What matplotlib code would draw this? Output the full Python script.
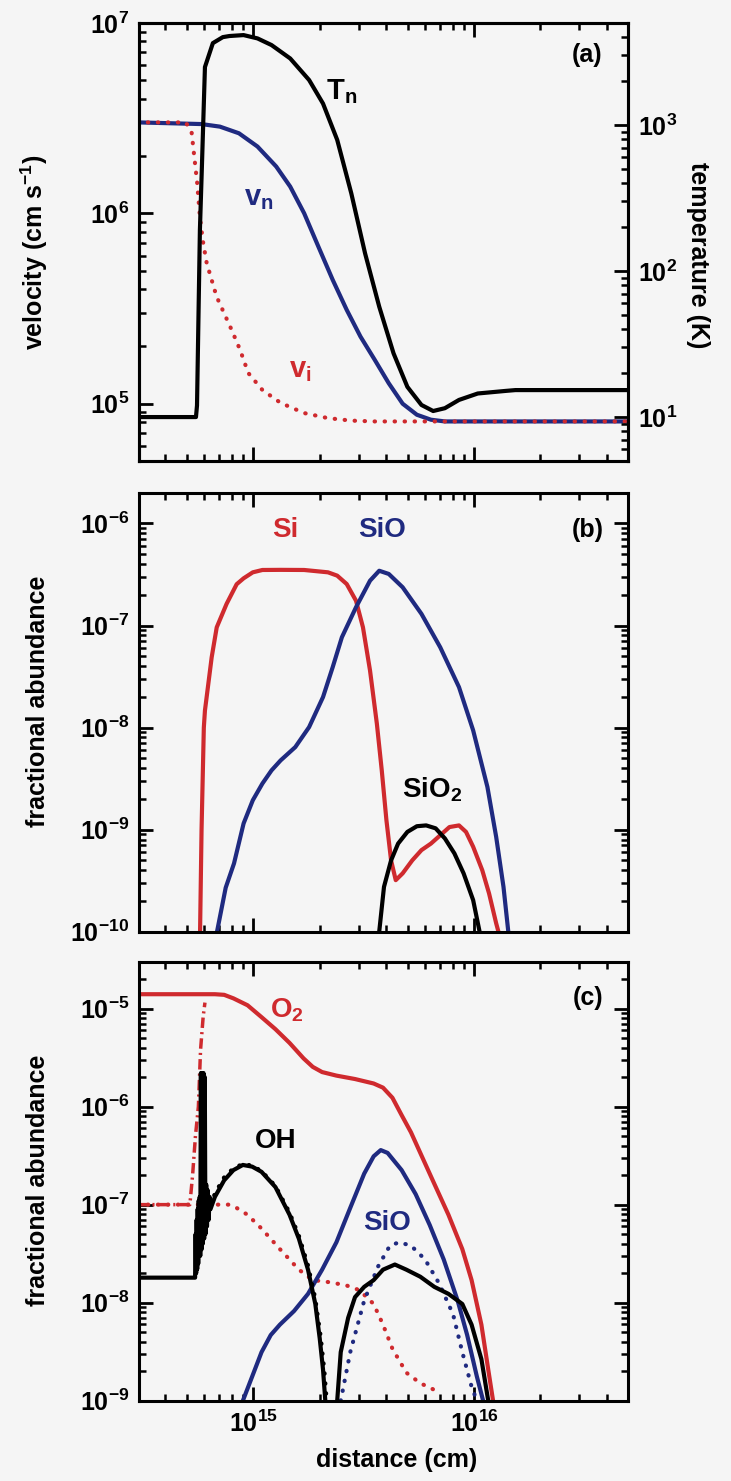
import matplotlib
matplotlib.use("Agg")
import matplotlib.pyplot as plt
from matplotlib.ticker import LogLocator, LogFormatterSciNotation, NullFormatter

# ---- panel (a): velocities (cm/s) and neutral temperature (K) vs distance (cm)
tn_x = [3.0e14, 5.5e14, 5.56e14, 5.73e14, 5.85e14, 6.04e14, 6.56e14, 7.28e14, 7.8e14,
        9.04e14, 1.045e15, 1.21e15, 1.47e15, 1.79e15, 2.07e15, 2.40e15, 2.78e15, 3.21e15,
        3.72e15, 4.32e15, 4.99e15, 5.78e15, 6.53e15, 7.38e15, 8.55e15, 1.04e16, 1.39e16,
        1.54e16, 5.0e16]
tn_y = [10, 10, 12, 190, 514, 2490, 3630, 3990, 4060, 4120, 3910, 3520, 2850, 2030, 1400,
        790, 340, 132, 57, 27.3, 16.1, 12.1, 11.0, 11.5, 13.1, 14.5, 15.1, 15.3, 15.3]

vn_x = [3.0e14, 5.82e14, 7.06e14, 8.61e14, 1.045e15, 1.27e15, 1.47e15, 1.70e15, 1.97e15,
        2.29e15, 2.65e15, 3.06e15, 3.55e15, 4.11e15, 4.75e15, 5.51e15, 6.38e15, 7.38e15, 5.0e16]
vn_y = [3.0e6, 2.94e6, 2.85e6, 2.63e6, 2.24e6, 1.76e6, 1.38e6, 1.0e6, 6.7e5, 4.47e5,
        3.11e5, 2.25e5, 1.70e5, 1.28e5, 1.0e5, 8.75e4, 8.24e4, 8.07e4, 8.07e4]

vi_x = [3.0e14, 4.95e14, 5.26e14, 5.57e14, 5.73e14, 5.90e14, 6.15e14, 6.82e14, 7.98e14,
        8.71e14, 9.49e14, 1.10e15, 1.33e15, 1.70e15, 2.18e15, 2.78e15, 3.55e15, 5.0e16]
vi_y = [3.0e6, 3.0e6, 2.64e6, 1.44e6, 9.6e5, 7.24e5, 5.48e5, 3.65e5, 2.44e5, 1.92e5,
        1.45e5, 1.18e5, 1.01e5, 8.93e4, 8.40e4, 8.15e4, 8.07e4, 8.07e4]

# ---- panel (b): Si, SiO, SiO2 fractional abundances
si_x = [5.74e14, 5.83e14, 5.97e14, 6.04e14, 6.48e14, 6.83e14, 7.57e14, 8.41e14, 9.04e14,
        9.95e14, 1.10e15, 1.33e15, 1.70e15, 2.18e15, 2.40e15, 2.65e15, 2.92e15, 3.14e15,
        3.38e15, 3.63e15, 3.82e15, 4.01e15, 4.21e15, 4.42e15, 4.75e15, 5.25e15, 5.78e15,
        6.38e15, 7.03e15, 7.74e15, 8.55e15, 9.20e15, 9.91e15, 1.09e16, 1.17e16, 1.26e16, 1.29e16]
si_y = [1e-10, 1e-9, 1e-8, 1.47e-8, 4.89e-8, 9.6e-8, 1.63e-7, 2.54e-7, 2.9e-7, 3.32e-7,
        3.5e-7, 3.51e-7, 3.5e-7, 3.32e-7, 3.08e-7, 2.55e-7, 1.75e-7, 9.6e-8, 3.62e-8, 1.09e-8,
        3.81e-9, 1.24e-9, 5.0e-10, 3.2e-10, 3.73e-10, 5.0e-10, 6.3e-10, 7.3e-10, 8.8e-10,
        1.06e-9, 1.1e-9, 9.5e-10, 6.8e-10, 4.0e-10, 2.37e-10, 1.21e-10, 1e-10]

sio_x = [6.85e14, 7.5e14, 8.18e14, 9.04e14, 9.95e14, 1.10e15, 1.21e15, 1.33e15, 1.55e15,
         1.79e15, 2.07e15, 2.29e15, 2.52e15, 2.92e15, 3.38e15, 3.72e15, 4.11e15, 4.75e15,
         5.78e15, 7.03e15, 8.55e15, 9.91e15, 1.15e16, 1.26e16, 1.36e16, 1.43e16]
sio_y = [1e-10, 2.7e-10, 4.67e-10, 1.15e-9, 1.94e-9, 2.83e-9, 3.81e-9, 4.77e-9, 6.44e-9,
         1.01e-8, 1.99e-8, 3.91e-8, 7.67e-8, 1.51e-7, 2.75e-7, 3.44e-7, 3.2e-7, 2.37e-7,
         1.30e-7, 6.12e-8, 2.49e-8, 9.4e-9, 2.62e-9, 8.5e-10, 2.75e-10, 1e-10]

sio2_x = [3.72e15, 3.91e15, 4.21e15, 4.53e15, 4.99e15, 5.51e15, 6.07e15, 6.70e15, 7.38e15,
          8.15e15, 8.97e15, 9.91e15, 1.06e16]
sio2_y = [1e-10, 2.75e-10, 5.0e-10, 7.3e-10, 9.5e-10, 1.08e-9, 1.1e-9, 1.03e-9, 8.2e-10,
          5.85e-10, 3.73e-10, 2.04e-10, 1e-10]

# ---- panel (c): O2, OH, SiO (solid and broken variants)
o2_x = [3.0e14, 6.70e14, 7.38e14, 8.13e14, 9.42e14, 1.09e15, 1.26e15, 1.46e15, 1.69e15,
        1.86e15, 2.05e15, 2.38e15, 2.89e15, 3.51e15, 3.87e15, 4.27e15, 4.70e15, 5.18e15,
        5.71e15, 6.61e15, 7.66e15, 8.85e15, 9.75e15, 1.08e16, 1.16e16, 1.22e16]
o2_y = [1.40e-5, 1.40e-5, 1.38e-5, 1.27e-5, 1.08e-5, 8.17e-6, 6.16e-6, 4.46e-6, 3.1e-6,
        2.54e-6, 2.25e-6, 2.07e-6, 1.91e-6, 1.72e-6, 1.56e-6, 1.23e-6, 8.18e-7, 5.47e-7,
        3.37e-7, 1.63e-7, 7.88e-8, 3.52e-8, 1.70e-8, 5.97e-9, 2.08e-9, 1.0e-9]

o2b_x = [3.0e14, 5.16e14, 5.31e14, 5.47e14, 5.64e14, 5.77e14, 5.93e14, 6.04e14]
o2b_y = [1e-7, 1e-7, 2e-7, 5e-7, 1e-6, 3.8e-6, 8.3e-6, 1.15e-5]

red_dot_x = [3.0e14, 7.74e14, 8.13e14, 9.42e14, 1.09e15, 1.32e15, 1.61e15, 1.86e15, 2.16e15,
             2.62e15, 3.03e15, 3.51e15, 3.87e15, 4.27e15, 4.94e15, 5.71e15, 6.61e15, 6.95e15]
red_dot_y = [1e-7, 1e-7, 9.7e-8, 7.88e-8, 5.7e-8, 3.52e-8, 2.17e-8, 1.70e-8, 1.63e-8,
             1.51e-8, 1.34e-8, 9.7e-9, 5.97e-9, 3.39e-9, 1.93e-9, 1.51e-9, 1.29e-9, 1.16e-9]

oh_x = [3.0e14, 5.45e14, 5.48e14, 5.51e14, 5.54e14, 5.57e14, 5.60e14, 5.63e14, 5.66e14,
        5.69e14, 5.72e14, 5.75e14, 5.79e14, 5.83e14, 5.87e14, 5.91e14, 5.95e14, 5.99e14,
        6.03e14, 6.07e14, 6.12e14, 6.17e14, 6.22e14, 6.28e14, 6.34e14, 6.40e14, 6.70e14,
        7.38e14, 8.13e14, 8.97e14, 9.89e14, 1.09e15, 1.26e15, 1.46e15, 1.61e15, 1.77e15,
        1.91e15, 2.00e15, 2.07e15, 2.12e15]
oh_y = [1.8e-8, 1.8e-8, 5e-8, 2e-8, 7e-8, 2.2e-8, 9e-8, 2.5e-8, 1.1e-7, 3e-8, 1.2e-7, 3e-8,
        2.2e-6, 3.5e-8, 2.2e-6, 4e-8, 2.2e-6, 4.5e-8, 2.0e-6, 5e-8, 1.6e-7, 6e-8, 1.4e-7,
        7e-8, 1.2e-7, 9e-8, 1.2e-7, 1.77e-7, 2.25e-7, 2.54e-7, 2.44e-7, 2.16e-7, 1.51e-7,
        7.88e-8, 4.48e-8, 2.17e-8, 9.7e-9, 4.32e-9, 2.08e-9, 1.0e-9]

oh_dot_x = [6.2e14, 6.7e14, 7.38e14, 8.13e14, 8.97e14, 9.89e14, 1.09e15, 1.26e15, 1.46e15,
            1.61e15, 1.77e15, 1.91e15, 2.02e15, 2.10e15, 2.15e15]
oh_dot_y = [8e-8, 1.3e-7, 1.9e-7, 2.35e-7, 2.6e-7, 2.5e-7, 2.2e-7, 1.55e-7, 8.3e-8, 4.8e-8,
            2.4e-8, 1.1e-8, 4.5e-9, 2.0e-9, 1.0e-9]

oh2_x = [2.40e15, 2.49e15, 2.69e15, 2.89e15, 3.18e15, 3.51e15, 3.87e15, 4.38e15, 4.94e15,
         5.71e15, 6.61e15, 7.66e15, 8.85e15, 9.75e15, 1.08e16, 1.16e16]
oh2_y = [1e-9, 3.13e-9, 7.0e-9, 1.14e-8, 1.45e-8, 1.70e-8, 2.17e-8, 2.45e-8, 2.17e-8,
         1.84e-8, 1.45e-8, 1.23e-8, 9.7e-9, 5.97e-9, 2.66e-9, 1e-9]

sioc_x = [8.97e14, 9.89e14, 1.09e15, 1.20e15, 1.32e15, 1.53e15, 1.77e15, 2.05e15, 2.38e15,
          2.75e15, 3.18e15, 3.51e15, 3.78e15, 4.06e15, 4.70e15, 5.44e15, 6.30e15, 7.29e15,
          8.43e15, 9.31e15, 1.03e16, 1.10e16]
sioc_y = [1e-9, 1.77e-9, 3.13e-9, 4.68e-9, 5.97e-9, 8.22e-9, 1.23e-8, 2.17e-8, 4.13e-8,
          9.27e-8, 2.07e-7, 3.11e-7, 3.6e-7, 3.37e-7, 2.25e-7, 1.28e-7, 6.2e-8, 2.76e-8,
          1.05e-8, 4.68e-9, 1.77e-9, 1e-9]

sio_dot_x = [2.49e15, 2.75e15, 3.18e15, 3.68e15, 4.16e15, 4.58e15, 5.18e15, 6.0e15, 6.95e15,
             8.04e15, 8.85e15, 9.75e15, 1.03e16]
sio_dot_y = [1e-9, 3.13e-9, 1.05e-8, 2.35e-8, 3.82e-8, 4.13e-8, 3.82e-8, 2.76e-8, 1.57e-8,
             7.6e-9, 3.13e-9, 1.39e-9, 1e-9]

BLUE = "#1f2a80"
RED = "#cf2a2e"
BG = "#f5f5f5"
LW = 3
DOT = (0, (0.1, 2.3))
TICK_FS = 18
LABEL_FS = 18


def style(ax, xlabels=False, right=True):
    ax.set_xscale("log")
    ax.set_yscale("log")
    ax.set_xlim(3.03e14, 5.0e16)
    ax.set_facecolor(BG)
    for s in ax.spines.values():
        s.set_linewidth(2.2)
    ax.xaxis.set_major_locator(LogLocator(base=10, numticks=20))
    ax.xaxis.set_minor_locator(LogLocator(base=10, subs=range(2, 10), numticks=50))
    ax.yaxis.set_major_locator(LogLocator(base=10, numticks=20))
    ax.yaxis.set_minor_locator(LogLocator(base=10, subs=range(2, 10), numticks=50))
    ax.xaxis.set_minor_formatter(NullFormatter())
    ax.yaxis.set_minor_formatter(NullFormatter())
    ax.tick_params(which="both", direction="in", top=True, right=right, width=2)
    ax.tick_params(which="major", length=10, labelsize=TICK_FS, pad=7)
    ax.tick_params(which="minor", length=5, width=1.8)
    if not xlabels:
        ax.tick_params(labelbottom=False)


def main():
    plt.rcParams["font.family"] = ["Liberation Sans", "DejaVu Sans"]
    plt.rcParams["font.weight"] = "bold"
    plt.rcParams["axes.labelweight"] = "bold"
    plt.rcParams["mathtext.fontset"] = "custom"
    plt.rcParams["mathtext.rm"] = "Liberation Sans:bold"
    plt.rcParams["mathtext.it"] = "Liberation Sans:bold"
    plt.rcParams["mathtext.bf"] = "Liberation Sans:bold"
    plt.rcParams["mathtext.default"] = "bf"

    fig = plt.figure(figsize=(7.31, 14.81), dpi=100, facecolor=BG)
    L, W = 0.1899, 0.6696
    ax1 = fig.add_axes([L, 0.6887, W, 0.2959])
    ax2 = fig.add_axes([L, 0.3709, W, 0.2964])
    ax3 = fig.add_axes([L, 0.0542, W, 0.2964])

    # (a)
    style(ax1, right=False)
    ax1.set_ylim(5e4, 1e7)
    axT = ax1.twinx()
    axT.set_yscale("log")
    axT.set_ylim(5, 5000)
    axT.yaxis.set_major_locator(LogLocator(base=10, numticks=20))
    axT.yaxis.set_minor_locator(LogLocator(base=10, subs=range(2, 10), numticks=50))
    axT.yaxis.set_minor_formatter(NullFormatter())
    axT.tick_params(which="both", direction="in", width=2)
    axT.tick_params(which="major", length=10, labelsize=TICK_FS, pad=7)
    axT.tick_params(which="minor", length=5, width=1.8)
    for s in axT.spines.values():
        s.set_linewidth(2.2)

    ax1.plot(vn_x, vn_y, color=BLUE, lw=LW)
    ax1.plot(vi_x, vi_y, color=RED, lw=LW, ls=DOT, dash_capstyle="round")
    axT.plot(tn_x, tn_y, color="black", lw=LW)
    ax1.set_ylabel(r"velocity (cm s$^{-1}$)", fontsize=LABEL_FS)
    ax1.yaxis.set_label_coords(-0.182, 0.477)
    axT.set_ylabel("temperature (K)", fontsize=LABEL_FS, rotation=270, va="center")
    axT.yaxis.set_label_coords(1.142, 0.47)
    ax1.text(0.916, 0.926, "(a)", transform=ax1.transAxes, fontsize=18, ha="center", va="center")
    ax1.text(0.415, 0.842, r"$T_n$", transform=ax1.transAxes, fontsize=21, ha="center", va="center")
    ax1.text(0.245, 0.60, r"$v_n$", transform=ax1.transAxes, fontsize=21, ha="center",
             va="center", color=BLUE)
    ax1.text(0.33, 0.207, r"$v_i$", transform=ax1.transAxes, fontsize=21, ha="center",
             va="center", color=RED)

    # (b)
    style(ax2)
    ax2.set_ylim(1e-10, 2e-6)
    ax2.plot(si_x, si_y, color=RED, lw=LW)
    ax2.plot(sio_x, sio_y, color=BLUE, lw=LW)
    ax2.plot(sio2_x, sio2_y, color="black", lw=LW)
    ax2.set_ylabel("fractional abundance", fontsize=LABEL_FS)
    ax2.yaxis.set_label_coords(-0.182, 0.525)
    ax2.text(0.917, 0.915, "(b)", transform=ax2.transAxes, fontsize=18, ha="center", va="center")
    ax2.text(0.300, 0.915, "Si", transform=ax2.transAxes, fontsize=20, ha="center",
             va="center", color=RED)
    ax2.text(0.496, 0.915, "SiO", transform=ax2.transAxes, fontsize=20, ha="center",
             va="center", color=BLUE)
    ax2.text(0.60, 0.323, r"SiO$_2$", transform=ax2.transAxes, fontsize=20, ha="center",
             va="center")

    # (c)
    style(ax3, xlabels=True)
    ax3.set_ylim(1e-9, 3e-5)
    ax3.plot(red_dot_x, red_dot_y, color=RED, lw=LW, ls=DOT, dash_capstyle="round")
    ax3.plot(o2b_x, o2b_y, color=RED, lw=2.5, ls=(0, (3, 1.2, 0.6, 1.2)))
    ax3.plot(o2_x, o2_y, color=RED, lw=LW)
    ax3.plot(sio_dot_x, sio_dot_y, color=BLUE, lw=LW, ls=DOT, dash_capstyle="round")
    ax3.plot(sioc_x, sioc_y, color=BLUE, lw=LW)
    ax3.plot(oh_dot_x, oh_dot_y, color="black", lw=LW, ls=DOT, dash_capstyle="round")
    ax3.plot(oh_x, oh_y, color="black", lw=LW)
    ax3.plot(oh2_x, oh2_y, color="black", lw=LW)
    ax3.set_ylabel("fractional abundance", fontsize=LABEL_FS)
    ax3.yaxis.set_label_coords(-0.182, 0.503)
    ax3.set_xlabel("distance (cm)", fontsize=LABEL_FS)
    ax3.xaxis.set_label_coords(0.527, -0.108)
    ax3.xaxis.set_major_formatter(LogFormatterSciNotation())
    ax3.text(0.917, 0.917, "(c)", transform=ax3.transAxes, fontsize=18, ha="center", va="center")
    ax3.text(0.303, 0.89, r"O$_2$", transform=ax3.transAxes, fontsize=20, ha="center",
             va="center", color=RED)
    ax3.text(0.279, 0.591, "OH", transform=ax3.transAxes, fontsize=20, ha="center", va="center")
    ax3.text(0.508, 0.405, "SiO", transform=ax3.transAxes, fontsize=20, ha="center",
             va="center", color=BLUE)

    fig.savefig("out.png", dpi=100, facecolor=BG)


if __name__ == "__main__":
    main()
